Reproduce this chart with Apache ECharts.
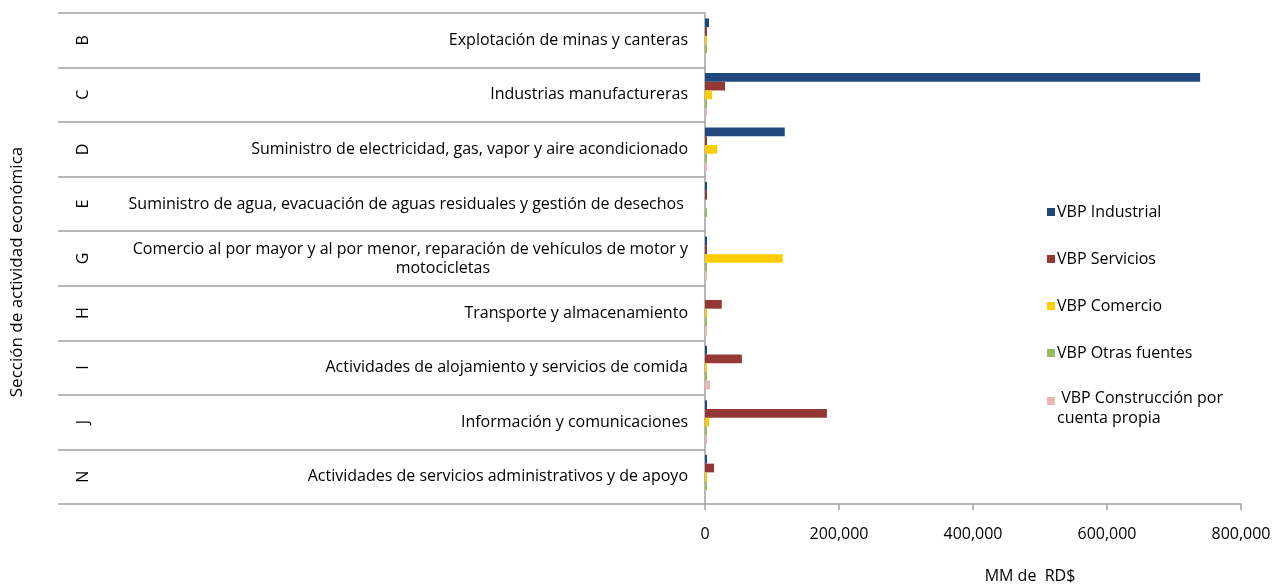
<!DOCTYPE html>
<html>
<head>
<meta charset="utf-8">
<script src="https://cdn.jsdelivr.net/npm/echarts@6/dist/echarts.min.js"></script>
<style>html,body{margin:0;padding:0;background:#fff;}#c{width:1279px;height:584px;}</style>
</head>
<body>
<div id="c"></div>
<script>
const letters = ['B','C','D','E','G','H','I','J','N'];
const names = [
  'Explotación de minas y canteras',
  'Industrias manufactureras',
  'Suministro de electricidad, gas, vapor y aire acondicionado',
  'Suministro de agua, evacuación de aguas residuales y gestión de desechos ',
  'Comercio al por mayor y al por menor, reparación de vehículos de motor y|motocicletas',
  'Transporte y almacenamiento',
  'Actividades de alojamiento y servicios de comida',
  'Información y comunicaciones',
  'Actividades de servicios administrativos y de apoyo'
];
const seriesNames = ['VBP Industrial','VBP Servicios','VBP Comercio','VBP Otras fuentes',' VBP Construcción por\ncuenta propia'];
const industrial  = [6000, 739000, 119000, 3000, 3000, 0, 3000, 3000, 3000];
const servicios   = [3000, 30000, 3000, 3000, 3000, 25000, 55000, 182000, 13500];
const comercio    = [3000, 10500, 18000, 0, 116000, 3000, 3000, 6000, 3000];
const otras       = [3000, 3000, 3000, 3000, 3000, 3000, 3000, 3000, 3000];
const construccion= [0, 3000, 3000, 0, 3000, 3000, 7500, 3000, 0];
const xTicks = {min: 0, max: 800000, interval: 200000};
const colors = ['#1F497D','#953735','#FFCC00','#9BBB59','#E6B9B8'];

const FONT = 'Open Sans';
const FS = 16;
// legend icons: an 8x8 square inside an 8x28 box (zero-area guide lines set the box)
const ICON_MID = 'path://M0,0L8,0M0,10L8,10L8,18L0,18ZM0,28L8,28';
const ICON_TOP = 'path://M0,0L8,0M0,2.5L8,2.5L8,10.5L0,10.5ZM0,28L8,28';
const chart = echarts.init(document.getElementById('c'));
const values = [industrial, servicios, comercio, otras, construccion];
chart.setOption({
  animation: false,
  color: colors,
  textStyle: {fontFamily: FONT},
  grid: {left: 705, right: 38, top: 13, bottom: 80, containLabel: false},
  legend: {
    orient: 'vertical', left: 1042, top: 193, itemWidth: 8, itemHeight: 28, itemGap: 19,
    textStyle: {fontFamily: FONT, fontSize: FS, color: '#000', padding: [0,0,0,-3], lineHeight: 20},
    data: seriesNames.map((n, i) => i === 4
      ? {name: n, icon: ICON_TOP, textStyle: {padding: [5,0,0,-3]}}
      : {name: n, icon: ICON_MID})
  },
  xAxis: {
    type: 'value', min: xTicks.min, max: xTicks.max, interval: xTicks.interval,
    axisLine: {show: true, lineStyle: {color: '#a0a0a0', width: 1.5}},
    axisTick: {show: true, length: 6, lineStyle: {color: '#a0a0a0', width: 1.5}},
    splitLine: {show: false},
    axisLabel: {fontFamily: FONT, fontSize: FS, color: '#000', margin: 22,
      formatter: v => v.toLocaleString('en-US')}
  },
  yAxis: [
    {
      type: 'category', inverse: true, data: names, position: 'left',
      axisLine: {show: true, lineStyle: {color: '#a0a0a0', width: 1.5}},
      axisTick: {show: true, length: 647, lineStyle: {color: '#a0a0a0', width: 1.5}},
      axisLabel: {
        margin: 17, fontFamily: FONT, fontSize: FS, color: '#000', lineHeight: 19,
        formatter: v => {
          const p = v.split('|');
          if (p.length === 1) return p[0];
          return p[0] + '\n{b|' + p[1] + '}';
        },
        rich: {b: {fontFamily: FONT, fontSize: FS, color: '#000', padding: [0, 198, 0, 0], lineHeight: 19}}
      }
    },
    {
      type: 'category', inverse: true, data: letters, position: 'left', offset: 608,
      axisLine: {show: false}, axisTick: {show: false},
      axisLabel: {margin: 6, rotate: 90, fontFamily: FONT, fontSize: FS, color: '#000'}
    }
  ],
  graphic: [
    {type: 'text', rotation: Math.PI/2, x: 17, y: 272,
      style: {text: 'Sección de actividad económica', font: '17px "Open Sans"', fill: '#000', align: 'center', verticalAlign: 'middle'}},
    {type: 'text', x: 1030, y: 576,
      style: {text: 'MM de  RD$', font: FS + 'px "Open Sans"', fill: '#000', align: 'center', verticalAlign: 'middle'}}
  ],
  series: seriesNames.map((n, i) => ({
    name: n, type: 'bar', yAxisIndex: 0, data: values[i],
    barGap: '0%', barCategoryGap: '20%',
    itemStyle: {color: colors[i]}
  }))
});
</script>
</body>
</html>
